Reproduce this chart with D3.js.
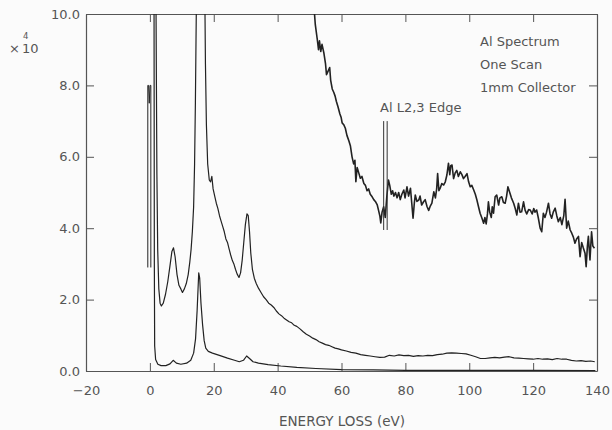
<!DOCTYPE html>
<html>
<head>
<meta charset="utf-8">
<script src="https://cdn.jsdelivr.net/npm/d3@7"></script>
<style>
  body { margin: 0; background: #fbfbfb; }
  svg { display: block; }
  text { font-family: "DejaVu Sans", sans-serif; fill: #555; }
</style>
</head>
<body>
<div id="my_dataviz"></div>
<script>
// Ticks de los ejes
const xTicks = [-20, 0, 20, 40, 60, 80, 100, 120, 140];
const yTicks = [0, 2, 4, 6, 8, 10];

// Espectro sin escalar [eV, cuentas x10^4]
const lowSpectrum = [
  [1.3, 10.6], [1.4, 3.0], [1.5, 0.7], [1.8, 0.32], [2.5, 0.19], [3.5, 0.15], [5.0, 0.15],
  [6.3, 0.2], [7.3, 0.3], [8.3, 0.22], [9.7, 0.19], [11.5, 0.22], [12.8, 0.3], [13.7, 0.5],
  [14.3, 0.9], [14.8, 1.7], [15.3, 2.75], [15.6, 2.6], [16.0, 1.9], [16.5, 1.3], [17.0, 0.85],
  [17.5, 0.64], [18.3, 0.55], [19.6, 0.5], [22.0, 0.43], [24.3, 0.36], [26.5, 0.3], [28.0, 0.26],
  [29.3, 0.3], [30.3, 0.42], [31.2, 0.35], [32.3, 0.26], [34.0, 0.22], [37.0, 0.18], [41.0, 0.14],
  [46.0, 0.1], [52.0, 0.07], [60.0, 0.04], [70.0, 0.03], [80.0, 0.02], [100.0, 0.02],
  [120.0, 0.015], [139.5, 0.01]
];

// Pico elástico saturado (parte que "da la vuelta")
const zeroLossWrap = [
  [-0.65, 2.9], [-0.65, 8.0], [-0.4, 8.0], [-0.2, 7.5], [0.05, 8.0], [0.3, 8.0], [0.3, 2.9]
];

// Espectro amplificado (curva intermedia)
const midSpectrum = [
  [1.9, 10.6], [2.05, 8.0], [2.2, 5.5], [2.45, 3.4], [2.8, 2.3], [3.2, 1.9], [3.6, 1.82],
  [4.2, 1.9], [4.9, 2.15], [5.6, 2.5], [6.3, 2.95], [6.9, 3.35], [7.4, 3.45], [7.9, 3.2],
  [8.5, 2.7], [9.1, 2.4], [9.7, 2.3], [10.2, 2.2], [10.8, 2.3], [11.4, 2.45], [12.0, 2.7],
  [12.5, 3.05], [12.9, 3.4], [13.3, 3.9], [13.7, 4.6], [14.0, 5.8], [14.25, 7.5], [14.45, 9.3],
  [14.6, 10.6], [17.2, 10.6], [17.4, 8.6], [17.7, 6.9], [18.1, 5.8], [18.6, 5.35], [19.0, 5.3],
  [19.4, 5.45], [19.8, 5.1], [20.3, 4.9], [20.8, 4.7], [21.3, 4.55], [21.8, 4.35], [22.3, 4.2],
  [22.8, 4.05], [23.3, 3.9], [23.8, 3.7], [24.3, 3.6], [24.8, 3.42], [25.3, 3.25], [25.8, 3.1],
  [26.3, 3.0], [26.8, 2.85], [27.3, 2.72], [27.9, 2.62], [28.4, 2.75], [28.9, 3.1], [29.4, 3.6],
  [29.9, 4.1], [30.4, 4.4], [30.8, 4.35], [31.2, 3.9], [31.6, 3.3], [32.1, 2.85], [32.7, 2.6],
  [33.3, 2.45], [34.0, 2.32], [34.8, 2.2], [35.6, 2.08], [36.4, 2.0], [37.2, 1.9], [38.0, 1.85],
  [38.8, 1.78], [39.6, 1.68], [40.4, 1.6], [41.2, 1.55], [42.0, 1.48], [42.8, 1.43], [43.6, 1.38],
  [44.4, 1.35], [45.2, 1.28], [46.0, 1.25], [47.0, 1.18], [48.0, 1.1], [49.0, 1.03], [50.0, 0.98],
  [51.0, 0.92], [52.0, 0.88], [53.0, 0.82], [54.0, 0.78], [55.0, 0.74], [56.0, 0.72], [57.0, 0.68],
  [58.0, 0.64], [59.0, 0.62], [60.0, 0.59], [61.5, 0.56], [63.0, 0.52], [64.5, 0.5], [66.0, 0.46],
  [67.5, 0.44], [69.0, 0.42], [70.5, 0.4], [72.0, 0.38], [73.5, 0.39], [75.0, 0.44], [76.5, 0.42],
  [78.0, 0.45], [79.5, 0.43], [81.0, 0.44], [82.5, 0.41], [84.0, 0.43], [85.5, 0.42], [87.0, 0.44],
  [88.5, 0.43], [90.0, 0.46], [91.5, 0.47], [93.0, 0.5], [94.5, 0.51], [96.0, 0.5], [97.5, 0.49],
  [99.0, 0.48], [100.5, 0.44], [102.0, 0.4], [103.5, 0.35], [105.0, 0.35], [106.5, 0.37],
  [108.0, 0.38], [109.5, 0.37], [111.0, 0.39], [112.5, 0.4], [114.0, 0.37], [115.5, 0.36],
  [117.0, 0.35], [118.5, 0.34], [120.0, 0.33], [121.5, 0.35], [123.0, 0.33], [124.5, 0.34],
  [126.0, 0.32], [127.5, 0.35], [129.0, 0.33], [130.5, 0.33], [132.0, 0.3], [133.5, 0.28],
  [135.0, 0.29], [136.5, 0.27], [138.0, 0.28], [139.3, 0.26]
];

// Espectro muy amplificado (curva superior con ruido)
const highSpectrum = [
  [51.3, 10.3], [51.8, 9.7], [52.4, 9.3], [52.8, 9.0], [53.1, 9.25], [53.5, 8.95], [53.9, 9.15],
  [54.5, 8.9], [55.0, 8.6], [55.3, 8.3], [55.8, 8.4], [56.3, 8.5], [56.6, 8.15], [57.1, 7.9],
  [57.6, 7.8], [58.0, 7.7], [58.4, 7.55], [58.9, 7.4], [59.5, 7.2], [59.9, 7.1], [60.2, 6.95],
  [60.7, 6.9], [61.2, 6.8], [61.7, 6.6], [62.3, 6.45], [62.8, 6.3], [63.3, 6.0], [63.8, 5.8],
  [64.2, 5.9], [64.5, 5.3], [64.9, 5.7], [65.4, 5.55], [65.9, 5.4], [66.4, 5.45], [67.0, 5.25],
  [67.5, 5.2], [68.0, 5.05], [68.5, 5.1], [69.0, 4.95], [69.6, 4.88], [70.1, 4.8], [70.6, 4.75],
  [71.2, 4.65], [71.6, 4.5], [72.0, 4.35], [72.3, 4.15], [72.7, 4.45], [73.2, 4.6], [73.7, 4.3],
  [74.2, 4.9], [74.7, 5.35], [75.1, 5.2], [75.6, 4.95], [76.0, 5.05], [76.4, 4.9], [76.9, 5.0],
  [77.4, 4.85], [77.9, 5.0], [78.4, 4.8], [78.9, 4.95], [79.5, 5.07], [79.9, 4.85], [80.5, 5.16],
  [81.0, 4.9], [81.6, 5.12], [82.0, 4.7], [82.4, 4.28], [82.8, 4.7], [83.1, 4.93], [83.6, 4.75],
  [84.2, 4.79], [84.6, 4.9], [85.1, 4.65], [85.7, 4.74], [86.2, 4.8], [86.8, 4.6], [87.3, 4.5],
  [87.8, 4.62], [88.3, 4.7], [88.9, 5.02], [89.4, 4.85], [89.8, 5.1], [90.1, 5.53], [90.5, 5.05],
  [90.9, 5.12], [91.4, 5.25], [92.0, 5.21], [92.5, 5.3], [93.0, 5.49], [93.5, 5.82], [93.9, 5.5],
  [94.2, 5.75], [94.6, 5.77], [95.1, 5.39], [95.6, 5.55], [96.1, 5.62], [96.6, 5.45], [97.2, 5.58],
  [97.7, 5.5], [98.2, 5.39], [98.7, 5.45], [99.3, 5.53], [99.8, 5.3], [100.3, 5.16], [100.8, 5.2],
  [101.4, 5.07], [101.9, 4.95], [102.4, 4.79], [102.9, 4.6], [103.4, 4.42], [103.9, 4.3],
  [104.5, 4.14], [104.9, 4.3], [105.3, 4.12], [105.7, 4.4], [106.0, 4.74], [106.4, 4.45],
  [106.9, 4.3], [107.2, 4.6], [107.6, 4.42], [108.1, 4.88], [108.6, 4.93], [109.2, 4.65],
  [109.6, 4.85], [110.2, 4.88], [110.7, 4.72], [111.25, 4.7], [111.7, 4.9], [112.1, 5.16],
  [112.6, 5.02], [113.2, 4.85], [113.9, 4.7], [114.4, 4.55], [114.9, 4.37], [115.4, 4.7],
  [115.9, 4.45], [116.4, 4.46], [117.0, 4.74], [117.5, 4.5], [118.0, 4.4], [118.6, 4.52],
  [119.1, 4.51], [119.7, 4.4], [120.2, 4.55], [120.6, 4.45], [121.1, 4.51], [121.6, 4.3],
  [122.2, 4.0], [122.7, 3.9], [123.2, 4.42], [123.7, 4.3], [124.2, 4.45], [124.8, 4.7],
  [125.3, 4.4], [125.8, 4.28], [126.3, 4.45], [126.9, 4.56], [127.4, 4.35], [127.9, 4.18],
  [128.5, 4.3], [129.0, 4.1], [129.6, 4.35], [130.0, 4.81], [130.5, 4.0], [131.0, 4.2],
  [131.6, 3.95], [132.1, 3.86], [132.6, 3.75], [133.1, 3.58], [133.6, 3.7], [134.2, 3.77],
  [134.7, 3.2], [135.2, 3.6], [135.7, 3.45], [136.25, 3.3], [136.6, 2.92], [137.0, 3.5],
  [137.3, 3.77], [137.8, 3.11], [138.3, 3.9], [138.7, 3.5], [139.2, 3.44]
];

// Marca del borde Al L2,3 (dos líneas verticales)
const edgeMarks = [73.2, 74.3];
const edgeRange = [3.95, 7.0];

// Textos de la leyenda
const legendLines = ['Al Spectrum', 'One Scan', '1mm Collector'];

// Tamaño y márgenes
const W = 612, H = 430;
const margin = { top: 14, right: 15, bottom: 59, left: 86 };

const xScale = d3.scaleLinear().domain([-20, 140]).range([margin.left, W - margin.right]);
const yScale = d3.scaleLinear().domain([0, 10]).range([H - margin.bottom, margin.top]);

const svg = d3.select('#my_dataviz').append('svg')
  .attr('width', W)
  .attr('height', H);

// Recorte del área del gráfico
svg.append('clipPath')
  .attr('id', 'plot-clip')
  .append('rect')
  .attr('x', xScale(-20))
  .attr('y', yScale(10))
  .attr('width', xScale(140) - xScale(-20))
  .attr('height', yScale(0) - yScale(10));

// Ejes (ticks hacia dentro en los 4 lados)
function styleAxis(g) {
  g.attr('font-family', null).attr('font-size', null);
  g.select('.domain').attr('stroke', '#555').attr('stroke-width', 1.2);
  g.selectAll('.tick line').attr('stroke', '#555').attr('stroke-width', 1);
  g.selectAll('.tick text').style('font-size', '13px');
}

svg.append('g')
  .attr('transform', 'translate(0,' + yScale(0) + ')')
  .call(d3.axisBottom(xScale).tickValues(xTicks).tickSize(-8).tickSizeOuter(0).tickPadding(15).tickFormat(d3.format('d')))
  .call(styleAxis);

svg.append('g')
  .attr('transform', 'translate(0,' + yScale(10) + ')')
  .call(d3.axisTop(xScale).tickValues(xTicks).tickSize(-8).tickSizeOuter(0).tickFormat(''))
  .call(styleAxis);

svg.append('g')
  .attr('transform', 'translate(' + xScale(-20) + ',0)')
  .call(d3.axisLeft(yScale).tickValues(yTicks).tickSize(-8).tickSizeOuter(0).tickPadding(6).tickFormat(d3.format('.1f')))
  .call(styleAxis);

svg.append('g')
  .attr('transform', 'translate(' + xScale(140) + ',0)')
  .call(d3.axisRight(yScale).tickValues(yTicks).tickSize(-8).tickSizeOuter(0).tickFormat(''))
  .call(styleAxis);

// Curvas
const line = d3.line()
  .x(d => xScale(d[0]))
  .y(d => yScale(d[1]));

const curves = svg.append('g').attr('clip-path', 'url(#plot-clip)');

curves.selectAll('.spectrum')
  .data([lowSpectrum, zeroLossWrap, midSpectrum, highSpectrum])
  .enter().append('path')
  .attr('class', 'spectrum')
  .attr('d', d => line(d))
  .style('fill', 'none')
  .style('stroke', '#222')
  .attr('stroke-width', (d, i) => (i === 3 ? 1.6 : (i === 1 ? 1 : 1.2)))
  .attr('stroke-linejoin', 'round');

// Líneas del borde
curves.selectAll('.edge-mark')
  .data(edgeMarks)
  .enter().append('line')
  .attr('class', 'edge-mark')
  .attr('x1', d => xScale(d))
  .attr('x2', d => xScale(d))
  .attr('y1', yScale(edgeRange[0]))
  .attr('y2', yScale(edgeRange[1]))
  .attr('stroke', '#333')
  .attr('stroke-width', 1);

// Anotaciones
svg.append('text')
  .attr('x', 380)
  .attr('y', 112)
  .style('font-size', '13px')
  .text('Al L2,3 Edge');

svg.selectAll('.legend-text')
  .data(legendLines)
  .enter().append('text')
  .attr('class', 'legend-text')
  .attr('x', 480)
  .attr('y', (d, i) => 46 + i * 23)
  .style('font-size', '13px')
  .text(d => d);

// Etiqueta del eje x
svg.append('text')
  .attr('x', 342)
  .attr('y', 426)
  .style('text-anchor', 'middle')
  .style('font-size', '13.5px')
  .text('ENERGY LOSS (eV)');

// Factor de escala x10^4
svg.append('text').attr('x', 9).attr('y', 53).style('font-size', '13px').text('×');
svg.append('text').attr('x', 22).attr('y', 53).style('font-size', '13px').text('10');
svg.append('text').attr('x', 23).attr('y', 39).style('font-size', '8.5px').text('4');
</script>
</body>
</html>
